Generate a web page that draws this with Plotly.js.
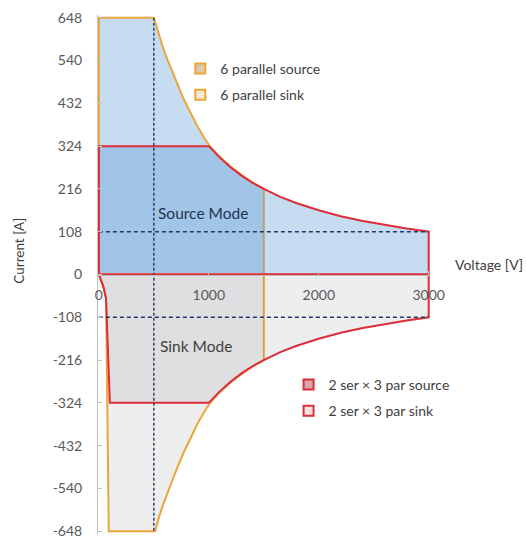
<!DOCTYPE html>
<html><head><meta charset="utf-8">
<script src="https://cdn.plot.ly/plotly-3.0.1.min.js"></script>
<style>html,body{margin:0;padding:0;background:#fff}#chart{width:526px;height:541px}</style>
</head><body><div id="chart"></div>
<script>
// Envelope outlines (Voltage [V], Current [A])
const par6SourceV = [0, 0, 500, 520, 545, 575, 610, 650, 700, 760, 830, 900, 960, 1009, 1100, 1200, 1300, 1400, 1500, 1500, 0];
const par6SourceI = [0, 648, 648, 628, 605, 580, 552, 525, 490, 450, 410, 372, 344, 324, 297, 272, 251, 232, 216, 0, 0];
const ser2SourceV = [0, 0, 1000, 1100, 1200, 1300, 1400, 1500, 1650, 1800, 2000, 2200, 2400, 2600, 2800, 3000, 3000, 0];
const ser2SourceI = [0, 324, 324, 295, 270, 249, 231, 216, 196, 180, 162, 147, 135, 125, 116, 108, 0, 0];
const par6SinkV = [0, 40, 65, 90, 510, 530, 555, 585, 620, 660, 710, 770, 840, 905, 965, 1012, 1100, 1200, 1300, 1400, 1500, 1500, 0];
const par6SinkI = [0, -30, -60, -648, -648, -628, -605, -580, -552, -525, -490, -450, -410, -372, -344, -324, -297, -272, -251, -232, -216, 0, 0];
const ser2SinkV = [0, 40, 65, 100, 1000, 1100, 1200, 1300, 1400, 1500, 1650, 1800, 2000, 2200, 2400, 2600, 2800, 3000, 3000, 0];
const ser2SinkI = [0, -30, -60, -324, -324, -295, -270, -249, -231, -216, -196, -180, -162, -147, -135, -125, -116, -108, 0, 0];
// Reference dashed lines
const refVoltV = [500, 500], refVoltI = [648, -648];
const refCurV = [0, 3000], refCurPosI = [108, 108], refCurNegI = [-108, -108];
// Tick labels
const xTicks = [0, 1000, 2000, 3000];
const yTicks = [-648, -540, -432, -324, -216, -108, 0, 108, 216, 324, 432, 540, 648];
// Legend names
const names = ['6 parallel source', '6 parallel sink', '2 ser \u00d7 3 par source', '2 ser \u00d7 3 par sink'];

const ORANGE = '#eba53b', RED = '#dd2c3a', NAVY = '#1f3864';
const BLUE_FILL = 'rgba(91,155,213,0.35)', GRAY_FILL = 'rgba(120,124,132,0.13)';

function area(x, y, color, fill) {
  return {x: x, y: y, mode: 'lines', fill: 'toself', fillcolor: fill,
    line: {color: color, width: 2}, showlegend: false, hoverinfo: 'skip'};
}
function dash(x, y, d) {
  return {x: x, y: y, mode: 'lines', line: {color: NAVY, width: 1.4, dash: d}, showlegend: false, hoverinfo: 'skip'};
}
function leg(name, color, fill, legendId, grp) {
  return {x: [null], y: [null], mode: 'markers', name: name, legend: legendId, legendgroup: grp,
    marker: {symbol: 'square', size: 10, color: fill, line: {color: color, width: 2}}};
}

const data = [
  area(par6SourceV, par6SourceI, ORANGE, BLUE_FILL),
  area(ser2SourceV, ser2SourceI, RED, BLUE_FILL),
  area(par6SinkV, par6SinkI, ORANGE, GRAY_FILL),
  area(ser2SinkV, ser2SinkI, RED, GRAY_FILL),
  dash(refVoltV, refVoltI, '3px,2px'),
  dash(refCurV, refCurPosI, '4px,3px'),
  dash(refCurV, refCurNegI, '4px,3px'),
  leg(names[0], ORANGE, '#dcc8a6', 'legend', 'a'),
  leg(names[1], ORANGE, '#f4e8d6', 'legend', 'b'),
  leg(names[2], RED, '#d8a6ae', 'legend2', 'c'),
  leg(names[3], RED, '#f7e2e2', 'legend2', 'd')
];

const FONT = 'Lato, "Open Sans", sans-serif';
const legendBase = {font: {family: FONT, size: 14, color: '#404040'}, bgcolor: 'rgba(0,0,0,0)',
  borderwidth: 0, xanchor: 'left', yanchor: 'top', tracegroupgap: 5, itemwidth: 30};

const layout = {
  width: 526, height: 541,
  margin: {l: 98, r: 96, t: 15, b: 7, pad: 0},
  paper_bgcolor: '#fff', plot_bgcolor: 'rgba(0,0,0,0)',
  font: {family: FONT, size: 14, color: '#595959'},
  xaxis: {range: [-8, 3012], tickvals: xTicks, ticktext: xTicks.map(String),
    anchor: 'free', position: 0.5, showline: true, linecolor: '#bfbfbf', linewidth: 1,
    ticks: 'inside', ticklen: 4, tickcolor: '#bfbfbf', ticklabelstandoff: 8,
    showgrid: false, zeroline: false, fixedrange: true,
    tickfont: {family: FONT, size: 14, color: '#595959'}},
  yaxis: {range: [-655, 655], tickvals: yTicks, ticktext: yTicks.map(String),
    showline: true, linecolor: '#bfbfbf', linewidth: 1,
    ticks: 'inside', ticklen: 4, tickcolor: '#bfbfbf', ticklabelstandoff: 12,
    ticklabeloverflow: 'allow',
    showgrid: false, zeroline: false, fixedrange: true,
    tickfont: {family: FONT, size: 14, color: '#595959'}},
  legend: Object.assign({x: 0.248, y: 0.927}, legendBase),
  legend2: Object.assign({x: 0.574, y: 0.318}, legendBase),
  showlegend: true,
  annotations: [
    {text: 'Source Mode', x: 950, y: 155, xref: 'x', yref: 'y', showarrow: false,
      font: {family: FONT, size: 15.5, color: '#26344f'}},
    {text: 'Sink Mode', x: 882, y: -180, xref: 'x', yref: 'y', showarrow: false,
      font: {family: FONT, size: 15.5, color: '#404040'}},
    {text: 'Voltage [V]', x: 1.178, y: 25, xref: 'paper', yref: 'y', showarrow: false,
      xanchor: 'center', yanchor: 'middle',
      font: {family: FONT, size: 14, color: '#404040'}},
    {text: 'Current [A]', x: -0.238, y: 60, xref: 'paper', yref: 'y', showarrow: false, textangle: -90,
      xanchor: 'center', yanchor: 'middle',
      font: {family: FONT, size: 13.5, color: '#404040'}}
  ]
};

Plotly.newPlot('chart', data, layout, {displayModeBar: false, staticPlot: true});
</script></body></html>
